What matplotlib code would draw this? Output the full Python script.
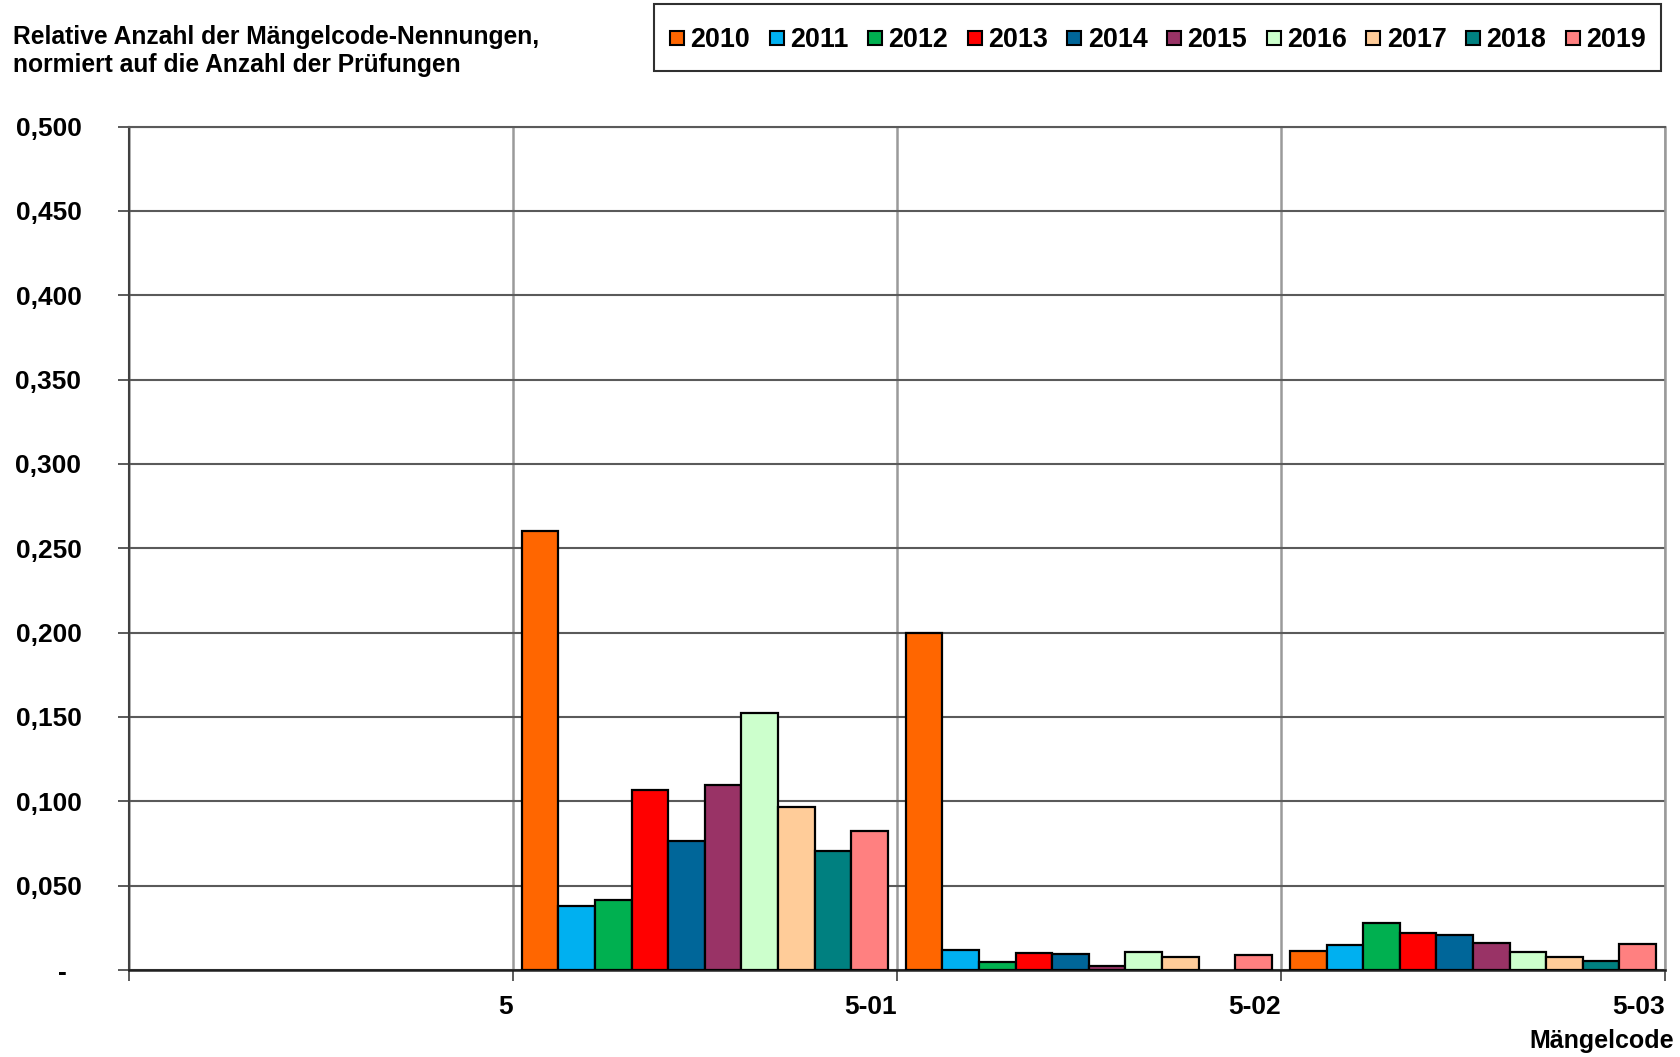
import matplotlib
matplotlib.use("Agg")
import matplotlib.pyplot as plt
from matplotlib.lines import Line2D
from matplotlib.patches import Rectangle
import matplotlib.transforms as mtransforms
import numpy as np

plt.rcParams['font.family'] = ['Liberation Sans', 'DejaVu Sans']
plt.rcParams['font.weight'] = 'bold'

years = ["2010", "2011", "2012", "2013", "2014", "2015", "2016", "2017", "2018", "2019"]
colors = ["#FF6600", "#00B0F0", "#00B050", "#FF0000", "#006699",
          "#993366", "#CCFFCC", "#FFCC99", "#008080", "#FF8080"]
# data groups (placed in slots 1..3 of the 4-slot axis)
group_slots = [1, 2, 3]
tick_labels = ["5", "5-01", "5-02", "5-03"]
v2010 = [0.260, 0.200, 0.0113]
v2011 = [0.0382, 0.0119, 0.0146]
v2012 = [0.0412, 0.0049, 0.0279]
v2013 = [0.1068, 0.0099, 0.0217]
v2014 = [0.0766, 0.0093, 0.0206]
v2015 = [0.1098, 0.0022, 0.0162]
v2016 = [0.1526, 0.0107, 0.0107]
v2017 = [0.0965, 0.0077, 0.0075]
v2018 = [0.0707, np.nan, 0.0051]
v2019 = [0.0825, 0.0089, 0.0154]
series = [v2010, v2011, v2012, v2013, v2014, v2015, v2016, v2017, v2018, v2019]

W, H = 1681, 1057
fig = plt.figure(figsize=(W / 100, H / 100), dpi=100)
x0, x1, y0, y1 = 128.7, 1665, 126.5, 970
ax = fig.add_axes([x0 / W, 1 - y1 / H, (x1 - x0) / W, (y1 - y0) / H])

bw = 0.0953
for i, (vals, c) in enumerate(zip(series, colors)):
    xs = np.array(group_slots) + 0.5 + (i - 4.5) * bw
    ax.bar(xs, vals, width=bw, color=c, edgecolor="black", linewidth=1.6, zorder=3)

ax.set_xlim(0, 4)
ax.set_ylim(0, 0.5)
yt = np.arange(0, 0.5001, 0.05)
ax.set_yticks(yt)
ax.set_yticklabels(["-  " if v == 0 else ("%.3f" % v).replace(".", ",") for v in yt])
ax.set_xticks([0, 1, 2, 3, 4])
ax.set_xticklabels([""] + tick_labels, ha="right")
offset = mtransforms.ScaledTranslation(-3 / 100, 0, fig.dpi_scale_trans)
for lab in ax.get_xticklabels():
    lab.set_transform(lab.get_transform() + offset)

ax.tick_params(axis="y", direction="out", length=8, width=1.2, colors="#404040",
               labelcolor="black", labelsize=19, pad=26)
ax.tick_params(axis="x", direction="out", length=8, width=1.2, colors="#404040",
               labelcolor="black", labelsize=19, pad=10)

ax.yaxis.grid(True, color="#5a5a5a", linewidth=1.5, zorder=1)
ax.xaxis.grid(True, color="#9a9a9a", linewidth=1.8, zorder=1)
ax.set_axisbelow(True)
ax.spines["left"].set_color("#404040")
ax.spines["left"].set_linewidth(1.5)
ax.spines["bottom"].set_color("#202020")
ax.spines["bottom"].set_linewidth(1.8)
ax.spines["top"].set_color("#5a5a5a")
ax.spines["top"].set_linewidth(1.5)
ax.spines["right"].set_color("#9a9a9a")
ax.spines["right"].set_linewidth(1.8)
for s in ax.spines.values():
    s.set_zorder(2)

fig.text(13 / W, 1 - 37 / H, "Relative Anzahl der Mängelcode-Nennungen,", fontsize=17.7,
         fontweight="bold", ha="left", va="center")
fig.text(13 / W, 1 - 65 / H, "normiert auf die Anzahl der Prüfungen", fontsize=17.7,
         fontweight="bold", ha="left", va="center")
fig.text(1674 / W, 1 - 1041 / H, "Mängelcode", fontsize=18, fontweight="bold",
         ha="right", va="center")

# legend box
lx0, lx1, ly0, ly1 = 654, 1661, 4, 71
fig.patches.append(Rectangle((lx0 / W, 1 - ly1 / H), (lx1 - lx0) / W, (ly1 - ly0) / H,
                             transform=fig.transFigure, facecolor="white",
                             edgecolor="#303030", linewidth=1.5))
handles = [Line2D([], [], linestyle="none", marker="s", markersize=9.5,
                  markerfacecolor=c, markeredgecolor="black", markeredgewidth=1.5)
           for c in colors]
fig.legend(handles, years, loc="center", ncol=10, frameon=False,
           bbox_to_anchor=((lx0 + lx1) / 2 / W, 1 - (ly0 + ly1 + 5) / 2 / H),
           prop={"size": 19.4, "weight": "bold"}, handlelength=0.6,
           handletextpad=0.2, columnspacing=0.68, borderaxespad=0)

fig.savefig("out.png", dpi=100)
